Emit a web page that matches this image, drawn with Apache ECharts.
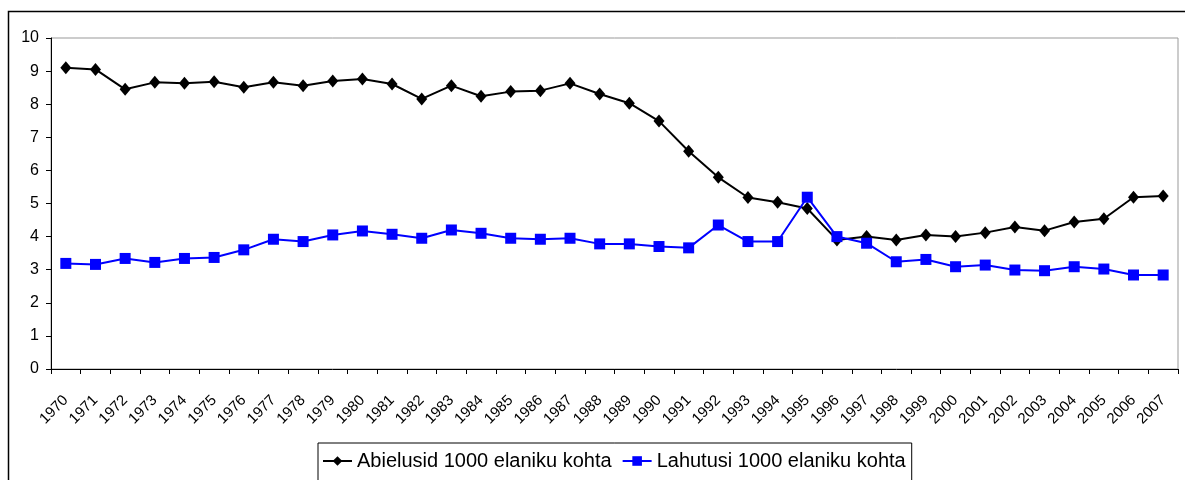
<!DOCTYPE html>
<html>
<head>
<meta charset="utf-8">
<script src="https://cdn.jsdelivr.net/npm/echarts@6/dist/echarts.min.js"></script>
<style>
  html, body { margin: 0; padding: 0; background: #fff; }
  #chart { width: 1185px; height: 480px; }
</style>
</head>
<body>
<div id="chart"></div>
<script>
const years = ['1970','1971','1972','1973','1974','1975','1976','1977','1978','1979',
  '1980','1981','1982','1983','1984','1985','1986','1987','1988','1989',
  '1990','1991','1992','1993','1994','1995','1996','1997','1998','1999',
  '2000','2001','2002','2003','2004','2005','2006','2007']

// abielud (marriages) per 1000 inhabitants
const abielusid = [9.1, 9.05, 8.45, 8.66, 8.63, 8.68, 8.51, 8.66, 8.56, 8.7,
  8.76, 8.61, 8.16, 8.56, 8.24, 8.38, 8.41, 8.63, 8.31, 8.03,
  7.49, 6.58, 5.79, 5.18, 5.04, 4.85, 3.9, 4.0, 3.9, 4.05,
  4.0, 4.12, 4.29, 4.18, 4.44, 4.54, 5.19, 5.23]

// lahutused (divorces) per 1000 inhabitants
const lahutusi = [3.19, 3.16, 3.34, 3.22, 3.34, 3.37, 3.6, 3.92, 3.85, 4.05,
  4.17, 4.07, 3.95, 4.2, 4.1, 3.95, 3.92, 3.95, 3.78, 3.78,
  3.7, 3.66, 4.35, 3.85, 3.85, 5.19, 4.0, 3.8, 3.24, 3.31,
  3.09, 3.14, 2.99, 2.97, 3.09, 3.02, 2.84, 2.84]

const font = 'Liberation Sans, Arial, sans-serif'

const chart = echarts.init(document.getElementById('chart'))
chart.setOption({
  animation: false,
  textStyle: { fontFamily: font, color: '#000' },
  graphic: [
    {
      type: 'rect',
      shape: { x: 8.5, y: 11.5, width: 1200, height: 500 },
      style: { fill: 'none', stroke: '#000', lineWidth: 1.5 },
      silent: true
    }
  ],
  grid: {
    left: 51,
    top: 38,
    right: 7,
    bottom: 111,
    show: true,
    borderColor: '#999',
    borderWidth: 1
  },
  legend: {
    left: 318,
    top: 443,
    padding: [8, 6, 30, 4],
    borderColor: '#000',
    borderWidth: 1,
    itemWidth: 29,
    itemHeight: 12,
    itemGap: 10,
    textStyle: { fontFamily: font, fontSize: 20, color: '#000' },
    data: ['Abielusid 1000 elaniku kohta', 'Lahutusi 1000 elaniku kohta']
  },
  xAxis: {
    type: 'category',
    data: years,
    boundaryGap: true,
    axisLine: { lineStyle: { color: '#000', width: 1 } },
    axisTick: { show: true, interval: 0, length: 5, lineStyle: { color: '#000' } },
    axisLabel: { interval: 0, rotate: 45, margin: 29, fontSize: 15, color: '#000', fontFamily: font }
  },
  yAxis: {
    type: 'value',
    min: 0,
    max: 10,
    interval: 1,
    splitLine: { show: false },
    axisLine: { show: true, lineStyle: { color: '#000', width: 1 } },
    axisTick: { show: true, length: 5, lineStyle: { color: '#000' } },
    axisLabel: { fontSize: 16, color: '#000', margin: 12, fontFamily: font }
  },
  series: [
    {
      name: 'Abielusid 1000 elaniku kohta',
      type: 'line',
      data: abielusid,
      symbol: 'diamond',
      symbolSize: [11, 13],
      itemStyle: { color: '#000' },
      lineStyle: { color: '#000', width: 2 }
    },
    {
      name: 'Lahutusi 1000 elaniku kohta',
      type: 'line',
      data: lahutusi,
      symbol: 'rect',
      symbolSize: 11,
      itemStyle: { color: '#0000ff' },
      lineStyle: { color: '#0000ff', width: 2 }
    }
  ]
})
</script>
</body>
</html>
